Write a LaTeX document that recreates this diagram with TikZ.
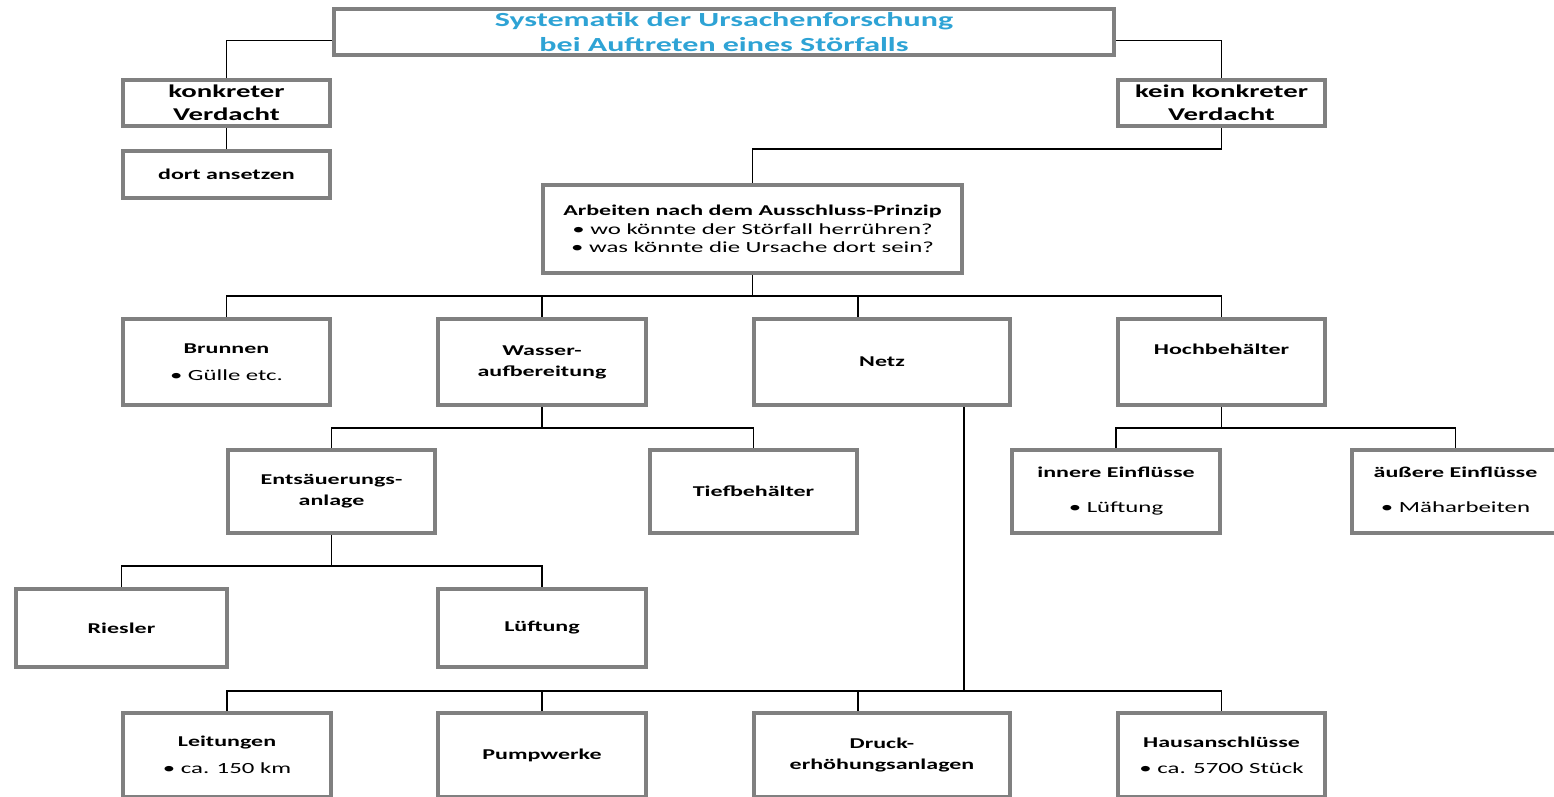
\documentclass[tikz,border=0pt]{standalone}
\usepackage{fontspec}
\setmainfont{Carlito}[FakeStretch=1.6]
\usetikzlibrary{backgrounds}
\definecolor{boxgray}{RGB}{128,128,128}
\definecolor{titleblue}{RGB}{46,163,213}
\tikzset{
  box/.style={draw=boxgray, fill=white, line width=4pt, inner sep=0pt, align=center,
    font=\bfseries\fontsize{15}{18.5}\selectfont},
  bigbox/.style={box, font=\bfseries\fontsize{18}{22}\selectfont},
  conn/.style={draw=black, line width=1.5pt}
}
\newcommand{\itm}[1]{{\mdseries\fontsize{15.5}{18.5}\selectfont\textbullet\ #1}}
\begin{document}
\begin{tikzpicture}[x=1pt,y=-1pt]
\useasboundingbox (0,0) rectangle (1554,797);
% boxes (outer size minus line width)
\node[box, minimum width=780, minimum height=46, text=titleblue,
  font=\bfseries\fontsize{20}{25}\selectfont] (title) at (724,32.5)
  {Systematik der Ursachenforschung\\bei Auftreten eines Störfalls};
\node[bigbox, minimum width=207, minimum height=46] (konk) at (226.5,103) {konkreter\\[1pt]Verdacht};
\node[box, minimum width=207, minimum height=47] (dort) at (226.5,174.5) {dort ansetzen};
\node[bigbox, minimum width=207, minimum height=46] (kein) at (1221.5,103) {kein konkreter\\[1pt]Verdacht};
\node[box, minimum width=419, minimum height=88] (arb) at (752.5,229)
  {Arbeiten nach dem Ausschluss-Prinzip\\\itm{wo könnte der Störfall herrühren?}\\\itm{was könnte die Ursache dort sein?}};
% row 3
\node[box, minimum width=207, minimum height=86] (brun) at (226.5,362) {Brunnen\\[8.5pt]\itm{Gülle etc.}};
\node[box, minimum width=208, minimum height=86] (wass) at (542,362) {Wasser-\\[2.5pt]aufbereitung};
\node[box, minimum width=256, minimum height=86] (netz) at (882,362) {Netz};
\node[box, minimum width=207, minimum height=86] (hoch) at (1221.5,362) {\raisebox{8pt}[0pt][0pt]{Hochbehälter}};
% row 4
\node[box, minimum width=207, minimum height=83] (ents) at (331.5,491.5) {Entsäuerungs-\\[2.5pt]anlage};
\node[box, minimum width=207, minimum height=83] (tief) at (753.5,491.5) {Tiefbehälter};
\node[box, minimum width=208, minimum height=83] (inne) at (1116,491.5)
  {\raisebox{7pt}{\begin{tabular}{@{}c@{}}innere Einflüsse\\[16pt]\itm{Lüftung}\end{tabular}}};
\node[box, minimum width=207, minimum height=83] (auss) at (1455.5,491.5)
  {\raisebox{7pt}{\begin{tabular}{@{}c@{}}äußere Einflüsse\\[16pt]\itm{Mäharbeiten}\end{tabular}}};
% row 5
\node[box, minimum width=211, minimum height=78] (ries) at (121.5,628) {Riesler};
\node[box, minimum width=208, minimum height=78] (luef) at (542,628) {Lüftung};
% row 6
\node[box, minimum width=208, minimum height=84] (leit) at (227,755) {Leitungen\\[8.5pt]\itm{ca. 150 km}};
\node[box, minimum width=208, minimum height=84] (pump) at (542,755) {Pumpwerke};
\node[box, minimum width=256, minimum height=84] (druc) at (882,755) {Druck-\\[2.5pt]erhöhungsanlagen};
\node[box, minimum width=207, minimum height=84] (haus) at (1221.5,755) {Hausanschlüsse\\[7.5pt]\itm{ca. 5700 Stück}};
% bus coordinates
\coordinate (busA) at (0,149);
\coordinate (busB) at (0,296);
\coordinate (busC) at (0,428);
\coordinate (busD) at (0,566);
\coordinate (busE) at (0,691);
\coordinate (netzout) at (964,407);
\begin{pgfonlayer}{background}
\draw[conn] ([yshift=-8pt]title.west) -| (konk.north);
\draw[conn] ([yshift=-8pt]title.east) -| (kein.north);
\draw[conn] (konk.south) -- (dort.north);
\draw[conn] (kein.south) -- (kein.south |- busA) -| (arb.north);
\draw[conn] (arb.south) -- (arb.south |- busB);
\draw[conn] (brun.north) -- (brun.north |- busB) -- (hoch.north |- busB) -- (hoch.north);
\draw[conn] (wass.north) -- (wass.north |- busB);
\draw[conn] ([xshift=-24pt]netz.north) -- ([xshift=-24pt]netz.north |- busB);
\draw[conn] (wass.south) -- (wass.south |- busC);
\draw[conn] (ents.north) -- (ents.north |- busC) -- (tief.north |- busC) -- (tief.north);
\draw[conn] (ents.south) -- (ents.south |- busD);
\draw[conn] (ries.north) -- (ries.north |- busD) -- (luef.north |- busD) -- (luef.north);
\draw[conn] (hoch.south) -- (hoch.south |- busC);
\draw[conn] (inne.north) -- (inne.north |- busC) -- (auss.north |- busC) -- (auss.north);
\draw[conn] (netzout) -- (netzout |- busE);
\draw[conn] (leit.north) -- (leit.north |- busE) -- (haus.north |- busE) -- (haus.north);
\draw[conn] (pump.north) -- (pump.north |- busE);
\draw[conn] ([xshift=-24pt]druc.north) -- ([xshift=-24pt]druc.north |- busE);
\end{pgfonlayer}
\end{tikzpicture}
\end{document}
